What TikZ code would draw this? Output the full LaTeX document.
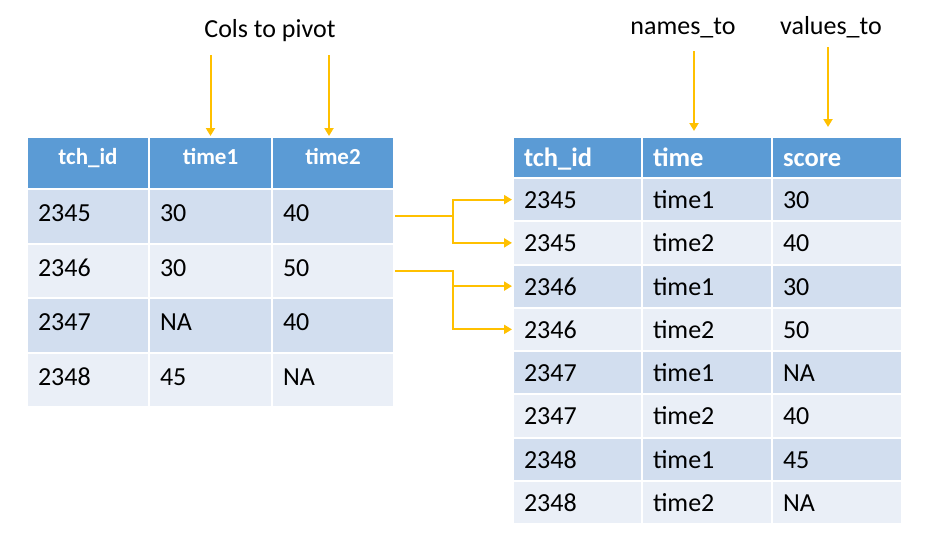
\documentclass[tikz,border=0pt]{standalone}
\usepackage{fontspec}
\setmainfont{Carlito}
\usetikzlibrary{arrows.meta}
\definecolor{hdr}{HTML}{5B9BD5}
\definecolor{rowA}{HTML}{D2DEEF}
\definecolor{rowB}{HTML}{EAEFF7}
\definecolor{arr}{HTML}{FFC000}
\begin{document}
\begin{tikzpicture}[x=1pt,y=-1pt,
  base cell/.style={draw=white, line width=2pt, inner xsep=11pt, inner ysep=0pt},
  lhead/.style={base cell, fill=hdr, text=white, align=center, minimum height=52pt,
    font=\fontsize{23}{27}\selectfont\bfseries, text height=16pt, text depth=14pt},
  ldata/.style={base cell, align=left, minimum height=54.5pt,
    font=\fontsize{26}{30}\selectfont, text height=18pt, text depth=7pt},
  rhead/.style={base cell, fill=hdr, text=white, align=left, minimum height=41pt,
    font=\fontsize{26.5}{30}\selectfont\bfseries, text height=18pt, text depth=0pt},
  rdata/.style={base cell, align=left, minimum height=43.25pt,
    font=\fontsize{26}{30}\selectfont, text height=18pt, text depth=0pt},
  lbl/.style={inner sep=0pt, font=\fontsize{26}{30}\selectfont},
  conn/.style={draw=arr, line width=2pt},
  tip/.style={conn, -{Triangle[length=8pt,width=9pt]}}
]
\useasboundingbox (0,0) rectangle (937,549);

% ---------- left table ----------
\node[lhead, text width=100pt] (L-0-1) at (88,163) {tch\_id};
\node[lhead, text width=101pt] (L-0-2) at (210.5,163) {time1};
\node[lhead, text width=100pt] (L-0-3) at (333,163) {time2};
\foreach \r/\a/\b/\c/\col in {1/2345/30/40/rowA, 2/2346/30/50/rowB, 3/2347/NA/40/rowA, 4/2348/45/NA/rowB}{
  \pgfmathsetmacro{\yy}{189+27.25+(\r-1)*54.5}
  \node[ldata, fill=\col, text width=100pt] (L-\r-1) at (88,\yy) {\a};
  \node[ldata, fill=\col, text width=101pt] (L-\r-2) at (210.5,\yy) {\b};
  \node[ldata, fill=\col, text width=100pt] (L-\r-3) at (333,\yy) {\c};
}

% ---------- right table ----------
\node[rhead, text width=107pt] (R-0-1) at (577.5,157.5) {tch\_id};
\node[rhead, text width=108pt] (R-0-2) at (707,157.5) {time};
\node[rhead, text width=108pt] (R-0-3) at (837,157.5) {score};
\foreach \r/\a/\b/\c/\col in {1/2345/time1/30/rowA, 2/2345/time2/40/rowB, 3/2346/time1/30/rowA, 4/2346/time2/50/rowB,
  5/2347/time1/NA/rowA, 6/2347/time2/40/rowB, 7/2348/time1/45/rowA, 8/2348/time2/NA/rowB}{
  \pgfmathsetmacro{\yy}{178+21.625+(\r-1)*43.25}
  \node[rdata, fill=\col, text width=107pt] (R-\r-1) at (577.5,\yy) {\a};
  \node[rdata, fill=\col, text width=108pt] (R-\r-2) at (707,\yy) {\b};
  \node[rdata, fill=\col, text width=108pt] (R-\r-3) at (837,\yy) {\c};
}

% ---------- labels ----------
\node[lbl, anchor=base] (cols) at (270,37) {Cols to pivot};
\node[lbl, anchor=base] (names) at (683,34) {names\_to};
\node[lbl, anchor=base] (values) at (831,34) {values\_to};

% ---------- vertical arrows ----------
\coordinate (c1) at (210.5,55);
\coordinate (c2) at (329,55);
\coordinate (n1) at (694,51);
\coordinate (v1) at (828,47);
\draw[tip] (c1) -- (L-0-2.north);
\draw[tip] (c2) -- ([xshift=-4pt]L-0-3.north);
\draw[tip] (n1) -- ([xshift=-13pt,yshift=5pt]R-0-2.north);
\draw[tip] (v1) -- ([xshift=-9pt,yshift=9pt]R-0-3.north);

% ---------- connectors ----------
\coordinate (j1) at (453,216.25);
\coordinate (j2) at (453,270.75);
\draw[tip] (L-1-3.east) -- (j1) |- (R-1-1.west);
\draw[tip] (j1) |- (R-2-1.west);
\draw[tip] (L-2-3.east) -- (j2) |- (R-3-1.west);
\draw[tip] (j2) |- (R-4-1.west);
\end{tikzpicture}
\end{document}
